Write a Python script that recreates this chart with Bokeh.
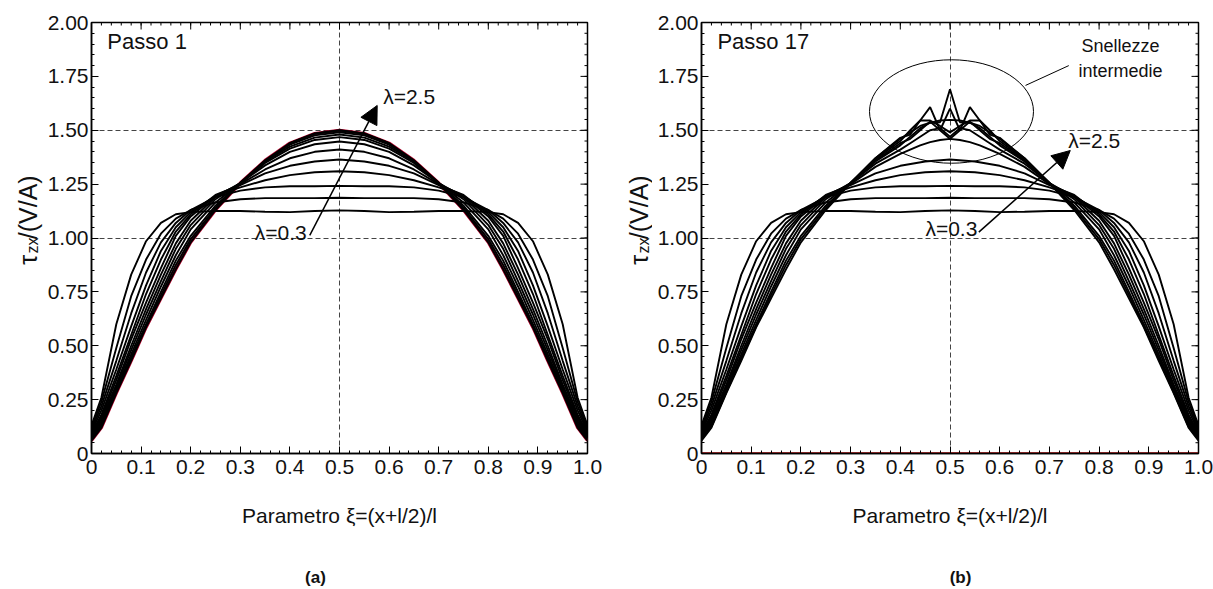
import math
from bokeh.plotting import figure
from bokeh.models import Range1d, FixedTicker
from bokeh.core.properties import value
from bokeh.layouts import row, column
from bokeh.models import Label, Arrow, NormalHead
from bokeh.embed import file_html
from bokeh.resources import INLINE

FONT = "Liberation Sans"

# ---------------- data ----------------
LAMBDA = [0.3, 0.5, 0.7, 0.9, 1.1, 1.3, 1.5, 1.7, 1.9, 2.1, 2.3, 2.5]

XI = [0, 0.02, 0.05, 0.08, 0.11, 0.14, 0.17, 0.2, 0.25, 0.3, 0.35, 0.4, 0.45, 0.5,
      0.55, 0.6, 0.65, 0.7, 0.75, 0.8, 0.83, 0.86, 0.89, 0.92, 0.95, 0.98, 1.0]

# Passo 1 (panel a)
A_L03 = [0.13, 0.26, 0.60, 0.83, 0.985, 1.07, 1.11, 1.12, 1.125, 1.125, 1.122, 1.12, 1.125, 1.128,
         1.125, 1.12, 1.122, 1.125, 1.125, 1.12, 1.11, 1.07, 0.985, 0.83, 0.60, 0.26, 0.13]
A_L05 = [0.12, 0.24, 0.49, 0.73, 0.90, 1.02, 1.09, 1.13, 1.165, 1.18, 1.185, 1.185, 1.185, 1.187,
         1.185, 1.185, 1.185, 1.18, 1.165, 1.13, 1.09, 1.02, 0.90, 0.73, 0.49, 0.24, 0.12]
A_L07 = [0.11, 0.22, 0.43, 0.65, 0.84, 0.98, 1.07, 1.13, 1.19, 1.22, 1.235, 1.24, 1.24, 1.242,
         1.24, 1.24, 1.235, 1.22, 1.19, 1.13, 1.07, 0.98, 0.84, 0.65, 0.43, 0.22, 0.11]
A_L09 = [0.10, 0.20, 0.39, 0.59, 0.78, 0.94, 1.05, 1.12, 1.195, 1.235, 1.268, 1.292, 1.305, 1.31,
         1.305, 1.292, 1.268, 1.235, 1.195, 1.12, 1.05, 0.94, 0.78, 0.59, 0.39, 0.20, 0.10]
A_L11 = [0.095, 0.18, 0.36, 0.55, 0.74, 0.90, 1.03, 1.11, 1.20, 1.245, 1.30, 1.335, 1.355, 1.364,
         1.355, 1.335, 1.30, 1.245, 1.20, 1.11, 1.03, 0.90, 0.74, 0.55, 0.36, 0.18, 0.095]
A_L13 = [0.09, 0.17, 0.34, 0.53, 0.70, 0.86, 1.01, 1.10, 1.195, 1.25, 1.318, 1.37, 1.40, 1.411,
         1.40, 1.37, 1.318, 1.25, 1.195, 1.10, 1.01, 0.86, 0.70, 0.53, 0.34, 0.17, 0.09]
A_L15 = [0.085, 0.16, 0.32, 0.50, 0.67, 0.83, 0.975, 1.08, 1.19, 1.255, 1.337, 1.40, 1.435, 1.448,
         1.435, 1.40, 1.337, 1.255, 1.19, 1.08, 0.975, 0.83, 0.67, 0.50, 0.32, 0.16, 0.085]
A_L17 = [0.08, 0.15, 0.31, 0.48, 0.645, 0.80, 0.95, 1.06, 1.18, 1.255, 1.348, 1.415, 1.455, 1.468,
         1.455, 1.415, 1.348, 1.255, 1.18, 1.06, 0.95, 0.80, 0.645, 0.48, 0.31, 0.15, 0.08]
A_L19 = [0.075, 0.14, 0.30, 0.46, 0.62, 0.775, 0.92, 1.04, 1.165, 1.255, 1.354, 1.424, 1.466, 1.48,
         1.466, 1.424, 1.354, 1.255, 1.165, 1.04, 0.92, 0.775, 0.62, 0.46, 0.30, 0.14, 0.075]
A_L21 = [0.07, 0.13, 0.29, 0.445, 0.60, 0.75, 0.895, 1.01, 1.15, 1.255, 1.358, 1.433, 1.476, 1.491,
         1.476, 1.433, 1.358, 1.255, 1.15, 1.01, 0.895, 0.75, 0.60, 0.445, 0.29, 0.13, 0.07]
A_L23 = [0.065, 0.125, 0.285, 0.44, 0.59, 0.735, 0.875, 0.995, 1.14, 1.255, 1.36, 1.44, 1.484, 1.499,
         1.484, 1.44, 1.36, 1.255, 1.14, 0.995, 0.875, 0.735, 0.59, 0.44, 0.285, 0.125, 0.065]
A_L25 = [0.06, 0.12, 0.28, 0.43, 0.585, 0.72, 0.855, 0.98, 1.13, 1.255, 1.36, 1.44, 1.485, 1.50,
         1.485, 1.44, 1.36, 1.255, 1.13, 0.98, 0.855, 0.72, 0.585, 0.43, 0.28, 0.12, 0.06]

# Passo 17 (panel b): finer grid near mid-span
XI_B = [0, 0.02, 0.05, 0.08, 0.11, 0.14, 0.17, 0.2, 0.25, 0.3, 0.35, 0.4,
        0.42, 0.44, 0.46, 0.48, 0.5, 0.52, 0.54, 0.56, 0.58,
        0.6, 0.65, 0.7, 0.75, 0.8, 0.83, 0.86, 0.89, 0.92, 0.95, 0.98, 1.0]
B_L13 = [0.09, 0.17, 0.34, 0.53, 0.70, 0.86, 1.01, 1.10, 1.195, 1.25, 1.33, 1.39,
         1.41, 1.43, 1.445, 1.455, 1.46, 1.455, 1.445, 1.43, 1.41,
         1.39, 1.33, 1.25, 1.195, 1.10, 1.01, 0.86, 0.70, 0.53, 0.34, 0.17, 0.09]
B_L15 = [0.085, 0.16, 0.32, 0.50, 0.67, 0.83, 0.975, 1.08, 1.19, 1.255, 1.345, 1.41,
         1.44, 1.47, 1.50, 1.51, 1.47, 1.51, 1.50, 1.47, 1.44,
         1.41, 1.345, 1.255, 1.19, 1.08, 0.975, 0.83, 0.67, 0.50, 0.32, 0.16, 0.085]
B_L17 = [0.08, 0.15, 0.31, 0.48, 0.645, 0.80, 0.95, 1.06, 1.18, 1.255, 1.355, 1.43,
         1.47, 1.51, 1.535, 1.545, 1.548, 1.545, 1.535, 1.51, 1.47,
         1.43, 1.355, 1.255, 1.18, 1.06, 0.95, 0.80, 0.645, 0.48, 0.31, 0.15, 0.08]
B_L19 = [0.075, 0.14, 0.30, 0.46, 0.62, 0.775, 0.92, 1.04, 1.165, 1.255, 1.36, 1.44,
         1.46, 1.50, 1.54, 1.50, 1.60, 1.50, 1.54, 1.50, 1.46,
         1.44, 1.36, 1.255, 1.165, 1.04, 0.92, 0.775, 0.62, 0.46, 0.30, 0.14, 0.075]
B_L21 = [0.07, 0.13, 0.29, 0.445, 0.60, 0.75, 0.895, 1.01, 1.15, 1.255, 1.365, 1.45,
         1.50, 1.545, 1.607, 1.50, 1.46, 1.50, 1.607, 1.545, 1.50,
         1.45, 1.365, 1.255, 1.15, 1.01, 0.895, 0.75, 0.60, 0.445, 0.29, 0.13, 0.07]
B_L23 = [0.065, 0.125, 0.285, 0.44, 0.59, 0.735, 0.875, 0.995, 1.14, 1.255, 1.37, 1.46,
         1.49, 1.52, 1.535, 1.537, 1.69, 1.537, 1.535, 1.52, 1.49,
         1.46, 1.37, 1.255, 1.14, 0.995, 0.875, 0.735, 0.59, 0.44, 0.285, 0.125, 0.065]
B_L25 = [0.06, 0.12, 0.28, 0.43, 0.585, 0.72, 0.855, 0.98, 1.13, 1.255, 1.37, 1.465,
         1.48, 1.545, 1.545, 1.52, 1.49, 1.52, 1.545, 1.545, 1.48,
         1.465, 1.37, 1.255, 1.13, 0.98, 0.855, 0.72, 0.585, 0.43, 0.28, 0.12, 0.06]
ZERO_LINE = [0.0, 0.0]
ZERO_XI = [0.0, 1.0]

PANEL_A = [A_L03, A_L05, A_L07, A_L09, A_L11, A_L13, A_L15, A_L17, A_L19, A_L21, A_L23, A_L25]
PANEL_B_FLAT = [A_L03, A_L05, A_L07, A_L09, A_L11]
PANEL_B_JAG = [B_L13, B_L15, B_L17, B_L19, B_L21, B_L23, B_L25]

X_TICKS = [0, 0.1, 0.2, 0.3, 0.4, 0.5, 0.6, 0.7, 0.8, 0.9, 1.0]
X_TICK_LABELS = ["0", "0.1", "0.2", "0.3", "0.4", "0.5", "0.6", "0.7", "0.8", "0.9", "1.0"]
Y_TICKS = [0, 0.25, 0.5, 0.75, 1.0, 1.25, 1.5, 1.75, 2.0]
Y_TICK_LABELS = ["0", "0.25", "0.50", "0.75", "1.00", "1.25", "1.50", "1.75", "2.00"]
X_MINOR = [round(i * 0.02, 2) for i in range(51)]
Y_MINOR = [round(i * 0.05, 2) for i in range(41)]

ROW_H = 541      # height of the panel row (page px)
STRIP_H = 48     # height of the (a)/(b) strip
FRAME_TOP = 22
FRAME_W = 498
FRAME_H = 431


def style_axis(ax, xdir):
    ax.ticker = FixedTicker(ticks=X_TICKS if xdir else Y_TICKS,
                            minor_ticks=X_MINOR if xdir else Y_MINOR)
    ax.axis_line_color = "black"
    ax.axis_line_width = 1.5
    ax.major_tick_in = 7
    ax.major_tick_out = 0
    ax.minor_tick_in = 3
    ax.minor_tick_out = 0
    ax.major_tick_line_color = "black"
    ax.minor_tick_line_color = "black"
    ax.major_label_overrides = dict(zip(X_TICKS, X_TICK_LABELS)) if xdir else dict(zip(Y_TICKS, Y_TICK_LABELS))
    ax.major_label_text_font = FONT
    ax.major_label_text_font_size = "21px"
    ax.major_label_text_color = "#111111"
    ax.major_label_standoff = 6 if xdir else 3


def mirror_ticks(p):
    # inward ticks on the top and right sides of the frame
    ky = 2.0 / FRAME_H
    kx = 1.0 / FRAME_W
    p.segment(x0=X_TICKS, y0=[2.0] * len(X_TICKS), x1=X_TICKS,
              y1=[2.0 - 7 * ky] * len(X_TICKS), line_color="black", line_width=1)
    p.segment(x0=X_MINOR, y0=[2.0] * len(X_MINOR), x1=X_MINOR,
              y1=[2.0 - 3 * ky] * len(X_MINOR), line_color="black", line_width=1)
    p.segment(x0=[1.0] * len(Y_TICKS), y0=Y_TICKS, x1=[1.0 - 7 * kx] * len(Y_TICKS),
              y1=Y_TICKS, line_color="black", line_width=1)
    p.segment(x0=[1.0] * len(Y_MINOR), y0=Y_MINOR, x1=[1.0 - 3 * kx] * len(Y_MINOR),
              y1=Y_MINOR, line_color="black", line_width=1)


def make_panel(width, left, right, passo, lam_lo, lam_hi, arrow):
    p = figure(width=width, height=ROW_H, output_backend="svg", toolbar_location=None,
               x_range=Range1d(0, 1.0), y_range=Range1d(0, 2.0),
               min_border_left=left, min_border_right=right,
               min_border_top=FRAME_TOP, min_border_bottom=ROW_H - FRAME_TOP - FRAME_H)
    p.outline_line_color = "black"
    p.outline_line_width = 1.5
    p.background_fill_color = "white"
    p.border_fill_color = "white"
    xa = p.xaxis[0]
    ya = p.yaxis[0]
    style_axis(xa, True)
    style_axis(ya, False)

    xa.axis_label = "Parametro ξ=(x+l/2)/l"
    xa.axis_label_text_font = FONT
    xa.axis_label_text_font_size = "21px"
    xa.axis_label_text_font_style = "normal"
    xa.axis_label_text_color = "#111111"
    xa.axis_label_standoff = 27

    p.xgrid.ticker = FixedTicker(ticks=[0.5])
    p.ygrid.ticker = FixedTicker(ticks=[1.0, 1.5])
    for g in (p.xgrid, p.ygrid):
        g.grid_line_color = "#444444"
        g.grid_line_dash = "5 3"
        g.grid_line_width = 1

    mirror_ticks(p)

    p.add_layout(Label(x=0.032, y=1.912, text=passo, text_align="left", text_baseline="middle",
                       text_font=FONT, text_font_size="22px", text_color="#111111"))
    p.add_layout(Label(x=lam_lo[0], y=lam_lo[1], text="λ=0.3", text_align="right",
                       text_baseline="middle", text_font=FONT, text_font_size="21px",
                       text_color="#111111"))
    p.add_layout(Label(x=lam_hi[0], y=lam_hi[1], text="λ=2.5", text_align="left",
                       text_baseline="middle", text_font=FONT, text_font_size="21px",
                       text_color="#111111"))
    p.add_layout(Arrow(end=NormalHead(size=18, fill_color="black", line_color="black"),
                       x_start=arrow[0], y_start=arrow[1], x_end=arrow[2], y_end=arrow[3],
                       line_width=1.5, line_color="black"))
    return p


def ylabel_fig(x0, width, xc):
    # narrow strip holding the rotated y-axis title; data units = page pixels
    f = figure(width=width, height=ROW_H, output_backend="svg", toolbar_location=None,
               x_range=Range1d(x0, x0 + width), y_range=Range1d(ROW_H, 0),
               x_axis_type=None, y_axis_type=None, min_border=0)
    f.outline_line_color = None
    f.grid.visible = False
    f.background_fill_color = "white"
    f.border_fill_color = "white"
    f.text(x=[xc], y=[304], text=["τ"], angle=math.pi / 2, text_align="left",
           text_baseline="middle", text_font=value(FONT), text_font_size="25px",
           text_color="#111111")
    f.text(x=[xc + 5], y=[290], text=["zx"], angle=math.pi / 2, text_align="left",
           text_baseline="middle", text_font=value(FONT), text_font_size="16px",
           text_color="#111111")
    f.text(x=[xc], y=[272], text=["/(V/A)"], angle=math.pi / 2, text_align="left",
           text_baseline="middle", text_font=value(FONT), text_font_size="25px",
           text_color="#111111")
    return f


ya_fig = ylabel_fig(0, 44, 27)
pa = make_panel(564, 45, 21, "Passo 1", (0.434, 1.025), (0.588, 1.657),
                (0.440, 1.012, 0.576, 1.615))
pa.line(XI, A_L25, line_color="#b0002a", line_width=3.2)
for ys in PANEL_A:
    pa.line(XI, ys, line_color="black", line_width=1.9)

yb_fig = ylabel_fig(608, 44, 638)
pb = make_panel(561, 49, 15, "Passo 17", (0.555, 1.042), (0.738, 1.452),
                (0.558, 1.027, 0.742, 1.406))
for ys in PANEL_B_FLAT:
    pb.line(XI, ys, line_color="black", line_width=1.9)
for ys in PANEL_B_JAG:
    pb.line(XI_B, ys, line_color="black", line_width=1.9)
pb.line(ZERO_XI, ZERO_LINE, line_color="#a00000", line_width=2.5)
pb.ellipse(x=0.503, y=1.587, width=0.33, height=0.48, fill_color=None,
           line_color="black", line_width=1)
pb.line([0.652, 0.739], [1.708, 1.800], line_color="black", line_width=1)
pb.add_layout(Label(x=0.843, y=1.893, text="Snellezze", text_align="center", text_baseline="middle",
                    text_font=FONT, text_font_size="18px", text_color="#111111"))
pb.add_layout(Label(x=0.843, y=1.777, text="intermedie", text_align="center", text_baseline="middle",
                    text_font=FONT, text_font_size="18px", text_color="#111111"))

# bottom strip with the sub-figure letters; data units = page pixels
strip = figure(width=1213, height=STRIP_H, output_backend="svg", toolbar_location=None,
               x_range=Range1d(0, 1213), y_range=Range1d(ROW_H + STRIP_H, ROW_H),
               x_axis_type=None, y_axis_type=None, min_border=0)
strip.outline_line_color = None
strip.grid.visible = False
strip.text(x=[315, 960], y=[577, 577], text=["(a)", "(b)"], text_align="center",
           text_baseline="middle", text_font=value(FONT), text_font_size="17px",
           text_font_style="bold", text_color="#111111")

layout = column(row(ya_fig, pa, yb_fig, pb), strip)
open("out.html", "w").write(file_html(layout, INLINE))
